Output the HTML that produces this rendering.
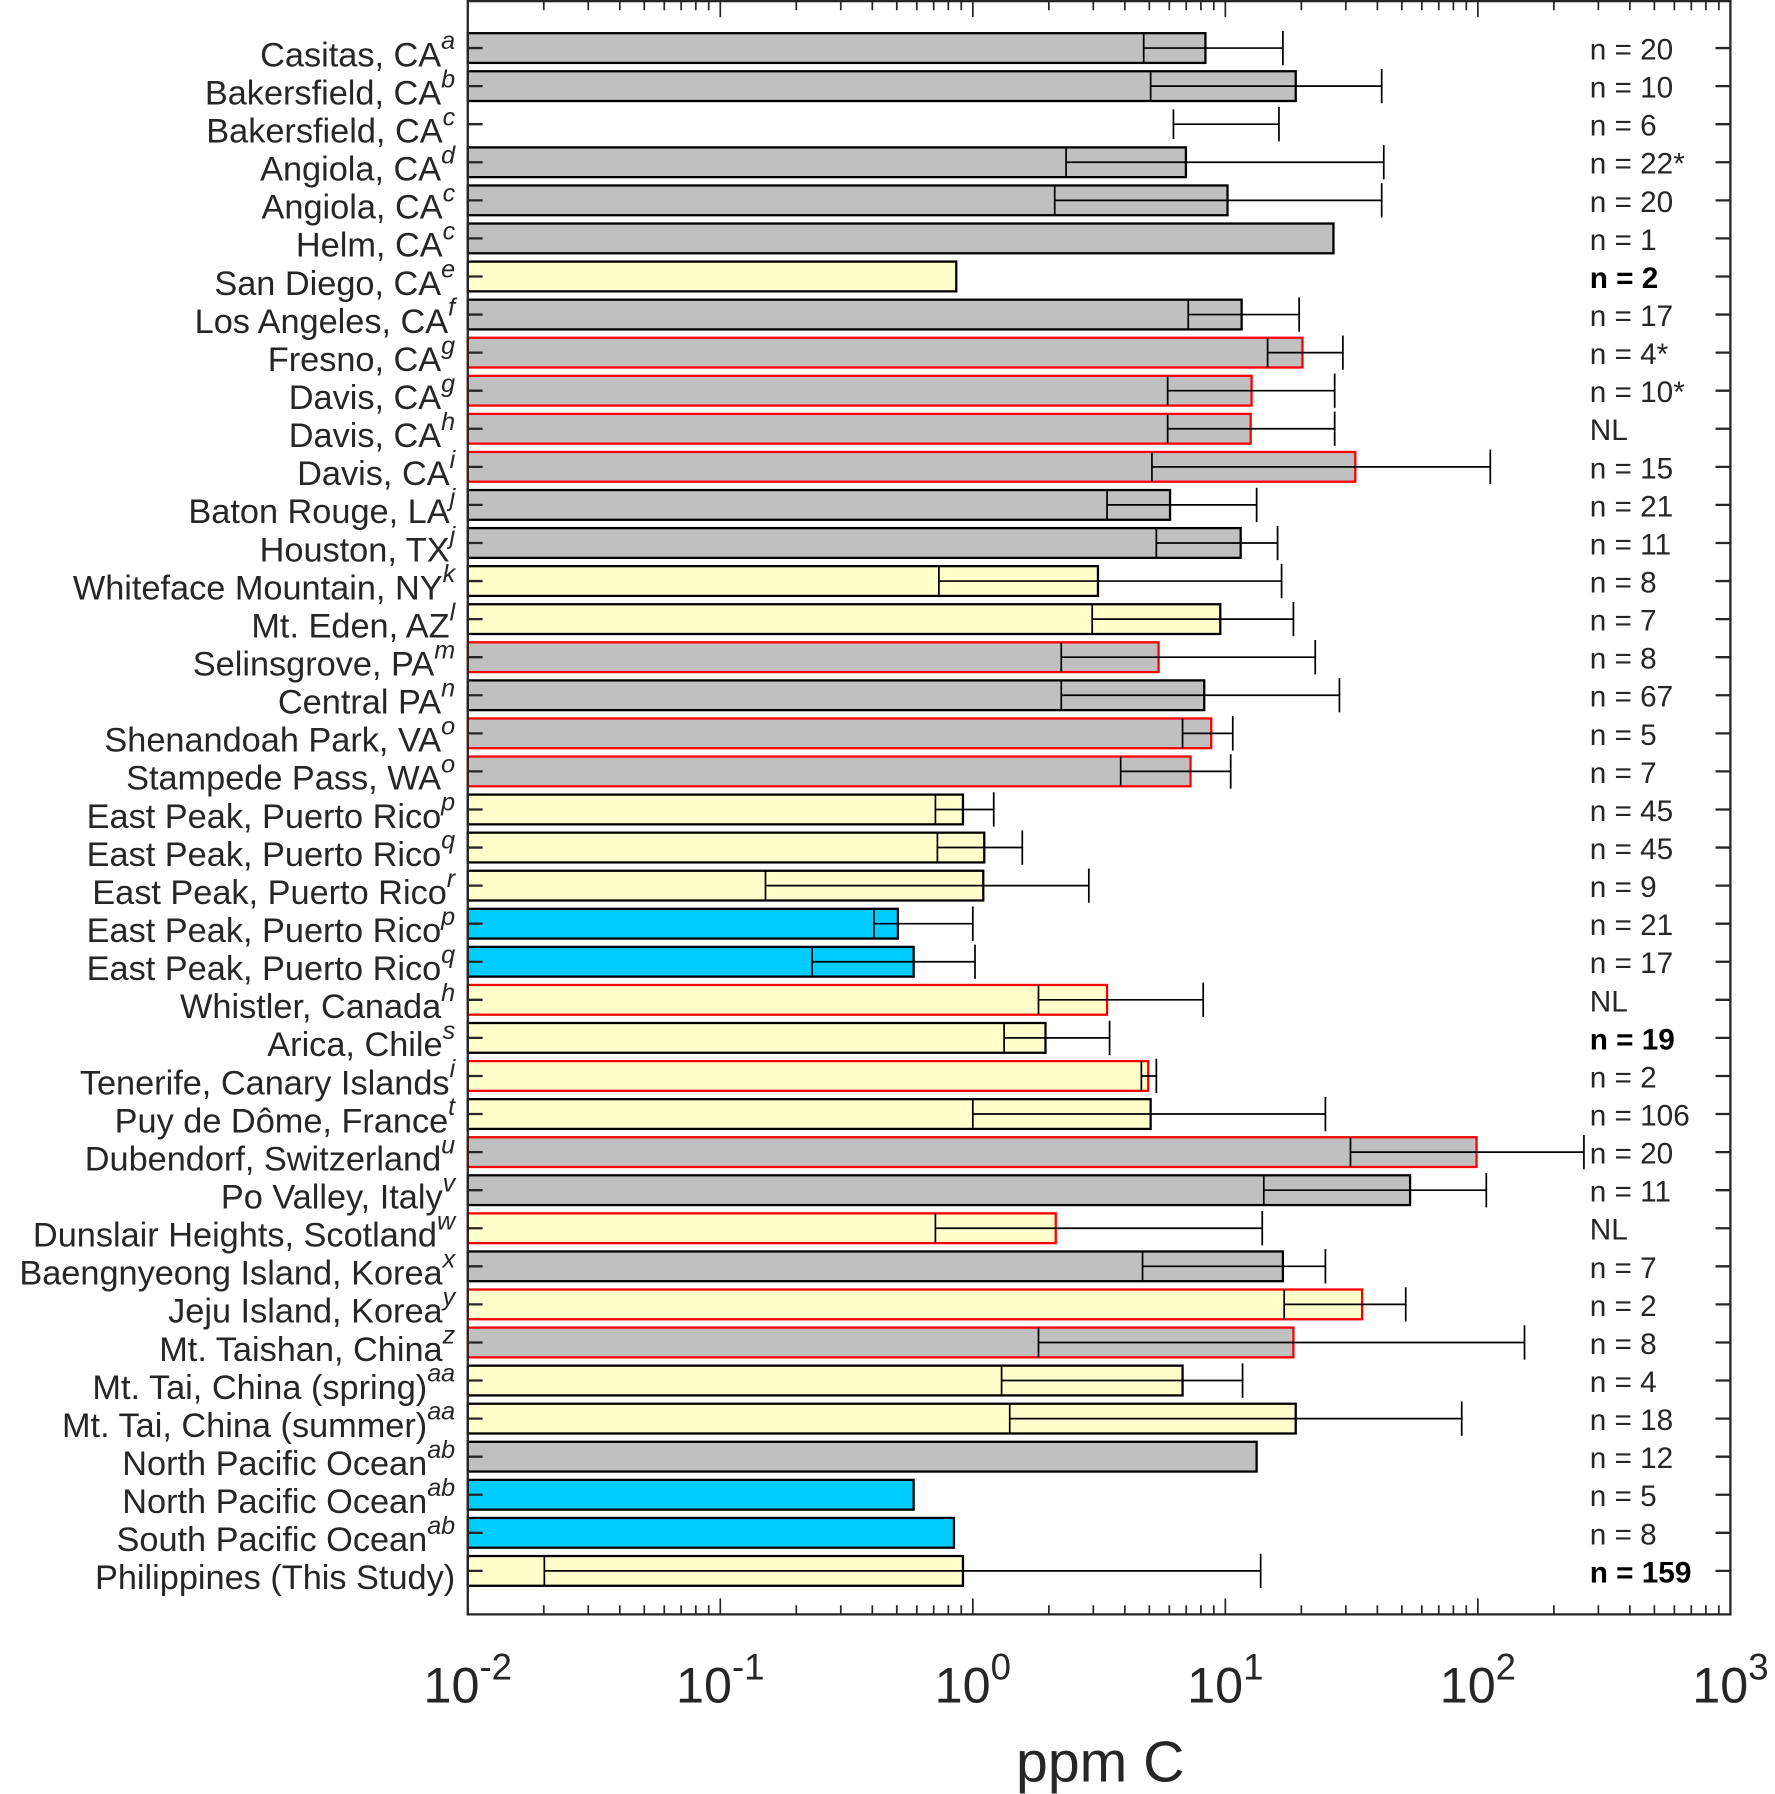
<!DOCTYPE html>
<html><head><meta charset="utf-8"><style>
html,body{margin:0;padding:0;background:#fff;}
svg{display:block;font-family:"Liberation Sans",Arial,sans-serif;}
</style></head><body>
<svg id="chart" width="1775" height="1794" viewBox="0 0 1552 1568" preserveAspectRatio="none" xmlns="http://www.w3.org/2000/svg"></svg>
<script>
const sites = ["Casitas, CA","Bakersfield, CA","Bakersfield, CA","Angiola, CA","Angiola, CA","Helm, CA","San Diego, CA","Los Angeles, CA","Fresno, CA","Davis, CA","Davis, CA","Davis, CA","Baton Rouge, LA","Houston, TX","Whiteface Mountain, NY","Mt. Eden, AZ","Selinsgrove, PA","Central PA","Shenandoah Park, VA","Stampede Pass, WA","East Peak, Puerto Rico","East Peak, Puerto Rico","East Peak, Puerto Rico","East Peak, Puerto Rico","East Peak, Puerto Rico","Whistler, Canada","Arica, Chile","Tenerife, Canary Islands","Puy de Dôme, France","Dubendorf, Switzerland","Po Valley, Italy","Dunslair Heights, Scotland","Baengnyeong Island, Korea","Jeju Island, Korea","Mt. Taishan, China","Mt. Tai, China (spring)","Mt. Tai, China (summer)","North Pacific Ocean","North Pacific Ocean","South Pacific Ocean","Philippines (This Study)"];
const refs = ["a","b","c","d","c","c","e","f","g","g","h","i","j","j","k","l","m","n","o","o","p","q","r","p","q","h","s","i","t","u","v","w","x","y","z","aa","aa","ab","ab","ab",""];
const nLabels = ["n = 20","n = 10","n = 6","n = 22*","n = 20","n = 1","n = 2","n = 17","n = 4*","n = 10*","NL","n = 15","n = 21","n = 11","n = 8","n = 7","n = 8","n = 67","n = 5","n = 7","n = 45","n = 45","n = 9","n = 21","n = 17","NL","n = 19","n = 2","n = 106","n = 20","n = 11","NL","n = 7","n = 2","n = 8","n = 4","n = 18","n = 12","n = 5","n = 8","n = 159"];
const boldN = [6,26,40];
const barValues = [8.34,19.0,null,6.98,10.2,26.8,0.86,11.6,20.2,12.7,12.6,32.7,6.04,11.5,3.13,9.55,5.44,8.25,8.79,7.28,0.914,1.11,1.10,0.505,0.583,3.40,1.94,4.95,5.06,98.8,53.9,2.13,16.9,34.8,18.6,6.77,19.0,13.3,0.583,0.842,0.914];
const innerValues = [4.75,5.06,6.23,2.34,2.11,null,null,7.13,14.7,5.91,5.91,5.12,3.40,5.33,0.734,2.97,2.24,2.24,6.77,3.85,0.711,0.724,0.151,0.406,0.231,1.82,1.33,4.65,1.00,31.3,14.2,0.711,4.70,17.1,1.82,1.30,1.40,null,null,null,0.0201];
const errHigh = [16.9,41.6,16.3,42.4,41.6,null,null,19.6,29.2,27.1,27.1,112,13.3,16.1,16.7,18.6,22.7,28.3,10.7,10.5,1.21,1.57,2.88,1.00,1.02,8.17,3.48,5.33,24.9,263,108,14.0,24.9,51.8,153,11.7,86.3,null,null,null,13.8];
const fillType = ["g","g","g","g","g","g","y","g","g","g","g","g","g","g","y","y","g","g","g","g","y","y","y","b","b","y","y","y","y","g","g","y","g","y","g","y","y","g","b","b","y"];
const redEdge = [0,0,0,0,0,0,0,0,1,1,1,1,0,0,0,0,1,0,1,1,0,0,0,0,0,1,0,1,0,1,0,1,0,1,1,0,0,0,0,0,0];
const tickExps = [-2,-1,0,1,2,3];

const svg = document.getElementById('chart');
const NS = 'http://www.w3.org/2000/svg';
const L=409, R=1513, T=1, B=1411, TXT='#262626';
function xs(v){return L + (Math.log10(v)+2)/5*(R-L);}
function ys(i){return 42 + i*(1373-42)/40;}
const BH=26;
function mk(tag, attrs, parent){const e=document.createElementNS(NS,tag);for(const k in attrs)e.setAttribute(k,attrs[k]);(parent||svg).appendChild(e);return e;}
const fills={g:'#c0c0c0',y:'#ffffcc',b:'#00ccff'};

const gBars = mk('g',{});


for(let i=0;i<sites.length;i++){
  const y=ys(i);
  if(barValues[i]!==null){
    const r=mk('rect',{x:L,y:y-BH/2,width:xs(barValues[i])-L,height:BH,fill:fills[fillType[i]],stroke:redEdge[i]?'#ff0000':'#000',"stroke-width":2},gBars);
    
    
  }
  if(innerValues[i]!==null){
    const xi=xs(innerValues[i]);
    const ln=mk('line',{x1:xi,x2:xi,y1:y-BH/2,y2:y+BH/2,stroke:'#000',"stroke-width":1.5},gBars);
    
    
    if(errHigh[i]!==null){
      const xe=xs(errHigh[i]);
      const eb=mk('path',{d:`M${xi},${y}H${xe}M${xe},${y-BH/2-2}V${y+BH/2+2}`,stroke:'#000',"stroke-width":1.5,fill:'none'},gBars);
      
      
    }
  }
}
const box=mk('rect',{x:L,y:T,width:R-L,height:B-T,fill:'none',stroke:TXT,"stroke-width":2});


let tp='';
for(let e=-2;e<3;e++){for(let m=1;m<10;m++){const x=xs(m*Math.pow(10,e));const len=m===1?14:8;tp+=`M${x},${B}V${B-len}M${x},${T}V${T+len}`;}}
const tk=mk('path',{d:tp,stroke:TXT,"stroke-width":1.5,fill:'none'});


let yp='';
for(let i=0;i<sites.length;i++){const y=ys(i);yp+=`M${L},${y}H${L+13}M${R},${y}H${R-13}`;}
const yt=mk('path',{d:yp,stroke:TXT,"stroke-width":2,fill:'none'});


for(let i=0;i<sites.length;i++){
  const y=ys(i);
  const t=mk('text',{x:398,y:y+16,"text-anchor":"end","font-size":30,fill:TXT});
  
  
  const s1=document.createElementNS(NS,'tspan');s1.textContent=sites[i];t.appendChild(s1);
  if(refs[i]){const s2=document.createElementNS(NS,'tspan');s2.setAttribute('font-style','italic');s2.setAttribute('font-size','22');s2.setAttribute('dy','-15');s2.textContent=refs[i];t.appendChild(s2);}
  const n=mk('text',{x:1390,y:y+10,"font-size":26,fill:boldN.includes(i)?'#000':TXT,"font-weight":boldN.includes(i)?'bold':'normal'});
  n.textContent=nLabels[i];
  
  
}
for(const e of tickExps){
  const x=xs(Math.pow(10,e));
  const t=mk('text',{x:x,y:1488,"text-anchor":"middle","font-size":44,fill:TXT});
  
  
  const a=document.createElementNS(NS,'tspan');a.textContent='10';t.appendChild(a);
  const b=document.createElementNS(NS,'tspan');b.setAttribute('dy','-20');b.setAttribute('font-size','32');b.textContent=String(e);t.appendChild(b);
}
const xt=mk('text',{x:962,y:1557,"text-anchor":"middle","font-size":50,fill:TXT});
xt.textContent='ppm C';


</script>
</body></html>
